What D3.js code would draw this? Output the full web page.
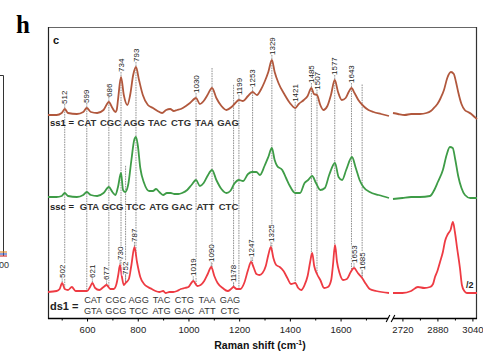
<!DOCTYPE html>
<html><head><meta charset="utf-8">
<script src="https://cdn.jsdelivr.net/npm/d3@7"></script>
<style>body{margin:0;background:#fff}svg{display:block}svg text{font-family:"Liberation Sans",Arial,sans-serif}</style>
</head><body><svg id="c" width="483" height="352"></svg>
<script>
// ---------- data (wavenumber cm-1, intensity a.u. with stacking offset) ----------
const ss1Low = [[446,203],[480,203],[500,205],[512,209],[525,205],[560,204],[585,206],[599,210],[615,206],[640,205],[665,208],[686,216],[700,210],[712,206],[717,208],[722,218],[734,241],[745,223],[759,213],[770,223],[782,243],[793,251],[805,238],[820,223],[840,213],[860,210],[878,207],[896,205],[912,208],[928,209],[942,207],[955,208],[970,209],[990,212],[1006,215],[1030,220],[1045,214],[1060,217],[1075,223],[1093,230],[1110,220],[1130,212],[1150,208],[1170,211],[1185,215],[1199,218],[1215,217],[1235,222],[1253,226],[1270,223],[1285,228],[1300,236],[1315,246],[1329,258],[1340,246],[1355,235],[1380,223],[1400,215],[1421,210],[1435,214],[1455,218],[1470,222],[1485,230],[1495,224],[1507,223],[1520,213],[1532,208],[1548,212],[1562,223],[1577,238],[1590,226],[1605,218],[1620,220],[1632,226],[1643,230],[1655,225],[1670,218],[1690,212],[1710,208],[1730,206],[1760,204],[1791,202]];
const ss1High = [[2677,205],[2700,204],[2730,203],[2760,204],[2800,204],[2830,205],[2850,207],[2868,211],[2880,214],[2895,220],[2910,228],[2925,240],[2942,246],[2955,244],[2965,236],[2975,226],[2990,214],[3005,208],[3020,206],[3035,204],[3050,201],[3061,199]];
const sscLow = [[446,121],[480,121],[500,122],[512,125],[525,122],[560,121],[585,123],[599,126],[615,123],[640,122],[665,125],[686,131],[700,126],[712,123],[722,131],[734,145],[742,128],[750,126],[762,133],[775,158],[786,178],[793,181],[800,173],[810,150],[825,135],[845,127],[860,127],[872,129],[885,126],[900,123],[915,125],[930,125],[945,124],[960,124],[975,125],[995,128],[1012,133],[1030,138],[1045,132],[1060,135],[1075,142],[1093,148],[1110,138],[1130,129],[1150,125],[1165,127],[1180,134],[1199,138],[1215,137],[1235,144],[1250,146],[1268,146],[1282,143],[1300,152],[1315,161],[1329,170],[1340,158],[1350,152],[1370,148],[1385,140],[1400,132],[1421,125],[1440,125],[1458,135],[1472,138],[1488,142],[1503,135],[1520,128],[1538,130],[1555,143],[1578,155],[1592,141],[1606,138],[1622,148],[1645,161],[1660,150],[1675,138],[1690,131],[1715,126],[1750,123],[1791,120]];
const sscHigh = [[2677,119],[2720,120],[2760,121],[2800,121],[2846,122],[2868,129],[2882,136],[2905,148],[2922,163],[2937,171],[2950,170],[2962,158],[2975,142],[2990,130],[3006,123],[3030,120],[3061,120]];
const ds1Low = [[446,26],[480,27],[492,29],[502,35],[512,29],[525,28],[540,31],[555,27],[580,27],[600,27],[612,31],[621,35],[632,30],[648,28],[665,31],[677,33],[692,29],[705,29],[716,34],[723,43],[730,53],[737,42],[745,33],[752,35],[765,39],[775,53],[787,71],[797,56],[810,41],[825,34],[840,31],[855,29],[870,27],[885,26],[900,27],[910,25],[925,26],[940,26],[955,27],[970,29],[985,30],[1000,31],[1019,37],[1035,32],[1048,33],[1062,37],[1076,44],[1090,51],[1102,42],[1115,35],[1135,30],[1155,27],[1168,29],[1178,31],[1190,29],[1205,29],[1220,35],[1235,48],[1247,56],[1258,50],[1268,44],[1280,43],[1292,45],[1305,52],[1315,63],[1325,71],[1335,60],[1346,53],[1360,51],[1375,47],[1390,40],[1405,34],[1421,35],[1433,30],[1445,28],[1458,33],[1470,42],[1480,56],[1488,65],[1496,52],[1507,44],[1520,38],[1535,30],[1550,31],[1563,38],[1570,53],[1578,73],[1586,56],[1596,45],[1610,38],[1625,39],[1640,46],[1653,50],[1668,45],[1685,40],[1700,34],[1715,29],[1740,27],[1791,25]];
const ds1High = [[2677,25],[2720,25],[2760,27],[2791,31],[2820,30],[2846,31],[2860,34],[2869,41],[2880,47],[2892,56],[2905,66],[2915,77],[2928,84],[2940,88],[2951,96],[2960,86],[2970,70],[2983,50],[2992,33],[3003,27],[3015,25],[3061,25]];

const ss1Peaks = [512,599,686,734,793,1030,1199,1253,1329,1421,1485,1507,1577,1643];
const ss1Markers = [1093,1178,1685];
const ds1Peaks = [502,621,677,730,752,787,1019,1090,1178,1247,1325,1653,1685];
const sscMarkers = [752];

const ss1Codons = ["CAT","CGC","AGG","TAC","CTG","TAA","GAG"];
const sscCodons = ["GTA","GCG","TCC","ATG","GAC","ATT","CTC"];

const majorLow = [600,800,1000,1200,1400,1600];
const minorLow = [500,700,900,1100,1300,1500,1700];
const majorHigh = [2720,2880,3040];
const minorHigh = [2800,2960];

// ---------- drawing ----------
const svg = d3.select("#c");
const xL = d3.scaleLinear().domain([446,1791]).range([48,389]);
const xH = d3.scaleLinear().domain([2677,3061]).range([393,477]);
const y = d3.scaleLinear().domain([0,291]).range([318,27]);

const colors = {ss1:"#b1583d", ssc:"#3e9c47", ds1:"#ee3b43"};

function valAt(data, w){
  if (w <= data[0][0]) return data[0][1];
  for (let i=1;i<data.length;i++){
    if (w <= data[i][0]){
      const a=data[i-1], b=data[i];
      return a[1] + (b[1]-a[1])*(w-a[0])/(b[0]-a[0]);
    }
  }
  return data[data.length-1][1];
}
function topY(data, w, win){
  let m=-Infinity;
  for (let t=w-win;t<=w+win;t+=1) m=Math.max(m,valAt(data,t));
  return y(m);
}

// left partial panel
svg.append("path").attr("d","M0,75.5H3.5V256").attr("fill","none").attr("stroke","#333").attr("stroke-width",1);
[["#e08a2c",252],["#3a5fc8",254],["#d23b3b",256]].forEach(([c,yy])=>{
  svg.append("line").attr("x1",0).attr("x2",7).attr("y1",yy).attr("y2",yy).attr("stroke",c).attr("stroke-width",1.2);
});
svg.append("text").attr("x",9).attr("y",268).attr("text-anchor","end").attr("font-size",9).attr("fill","#333").text("00");

// panel letters
svg.append("text").attr("x",16).attr("y",33)
  .style("font-family","'Liberation Serif','Times New Roman',serif")
  .attr("font-weight","bold").attr("font-size",25).attr("fill","#000").text("h");

// frame
svg.append("line").attr("x1",48).attr("x2",477).attr("y1",27.5).attr("y2",27.5).attr("stroke","#666").attr("stroke-width",1);
svg.append("line").attr("x1",48.5).attr("x2",48.5).attr("y1",27).attr("y2",319).attr("stroke","#222").attr("stroke-width",1.2);
svg.append("line").attr("x1",476.5).attr("x2",476.5).attr("y1",27).attr("y2",319).attr("stroke","#333").attr("stroke-width",1.2);

svg.append("text").attr("x",53).attr("y",44).attr("font-weight","bold").attr("font-size",11).attr("fill","#111").text("c");

// vertical marker lines
const vg = svg.append("g").attr("stroke","#858585").attr("stroke-width",0.9).attr("stroke-dasharray","1.6,0.9");
const labGap = 5;
const ss1Win = 4, ds1Win = 10;
ss1Peaks.forEach(w=>{
  vg.append("line").attr("x1",xL(w)).attr("x2",xL(w))
    .attr("y1",topY(ss1Low,w,ss1Win)-labGap).attr("y2",y(valAt(ds1Low,w)));
});
ss1Markers.forEach(w=>{
  vg.append("line").attr("x1",xL(w)).attr("x2",xL(w))
    .attr("y1",y(valAt(ss1Low,w))-20).attr("y2",y(valAt(ds1Low,w)));
});
sscMarkers.forEach(w=>{
  vg.append("line").attr("x1",xL(w)).attr("x2",xL(w))
    .attr("y1",y(valAt(sscLow,w))-25).attr("y2",y(valAt(ds1Low,w)));
});
ds1Peaks.forEach(w=>{
  vg.append("line").attr("x1",xL(w)).attr("x2",xL(w))
    .attr("y1",topY(ds1Low,w,ds1Win)-labGap).attr("y2",y(valAt(ds1Low,w)));
});

// spectra
const lineL = d3.line().x(d=>xL(d[0])).y(d=>y(d[1])).curve(d3.curveMonotoneX);
const lineH = d3.line().x(d=>xH(d[0])).y(d=>y(d[1])).curve(d3.curveMonotoneX);
[[ss1Low,ss1High,colors.ss1],[sscLow,sscHigh,colors.ssc],[ds1Low,ds1High,colors.ds1]].forEach(([lo,hi,c])=>{
  svg.append("path").attr("d",lineL(lo)).attr("fill","none").attr("stroke",c).attr("stroke-width",1.8).attr("stroke-linejoin","round");
  svg.append("path").attr("d",lineH(hi)).attr("fill","none").attr("stroke",c).attr("stroke-width",1.8).attr("stroke-linejoin","round");
});

// peak labels
function peakLabels(peaks, data, win, halo){
  svg.append("g").selectAll("text").data(peaks).join("text")
    .attr("transform",w=>`translate(${xL(w)+2.7},${topY(data,w,win)-labGap}) rotate(-90)`)
    .attr("font-size",8).attr("fill","#222")
    .attr("stroke",halo?"#fff":null).attr("stroke-width",halo?2:null).attr("paint-order","stroke")
    .text(w=>w);
}
peakLabels(ss1Peaks, ss1Low, ss1Win, false);
peakLabels(ds1Peaks, ds1Low, ds1Win, true);

// sequence annotations
function codonRow(list, range, base, weight, size){
  const s = d3.scalePoint().domain(list).range(range);
  svg.append("g").selectAll("text").data(list).join("text")
    .attr("x",d=>s(d)).attr("y",base).attr("text-anchor","middle")
    .attr("font-size",size).attr("font-weight",weight).attr("fill","#333").text(d=>d);
}
svg.append("text").attr("x",50).attr("y",126).attr("font-size",9.5).attr("font-weight","bold").attr("fill","#222").text("ss1 =");
codonRow(ss1Codons,[87,228],126,"bold",9.5);
svg.append("text").attr("x",50).attr("y",210).attr("font-size",9.5).attr("font-weight","bold").attr("fill","#222").text("ssc =");
codonRow(sscCodons,[89.5,228.5],210,"bold",9.5);
svg.append("text").attr("x",50).attr("y",310).attr("font-size",11).attr("font-weight","bold").attr("fill","#222").text("ds1 =");
codonRow(ss1Codons,[93,230],303,"normal",9.2);
codonRow(sscCodons,[93,230],314,"normal",9.2);

svg.append("text").attr("x",466).attr("y",288).attr("font-size",9).attr("font-weight","bold").attr("fill","#222").text("/2");

// x axis (broken)
function drawAxis(scale, major, minor){
  const gMaj = svg.append("g").attr("transform","translate(0,318.5)")
    .call(d3.axisBottom(scale).tickValues(major).tickSize(3).tickPadding(4.5).tickFormat(d3.format("d")));
  gMaj.select(".domain").remove();
  gMaj.selectAll("text").attr("font-size",9.5).attr("fill","#222");
  gMaj.selectAll("line").attr("stroke","#000");
  const gMin = svg.append("g").attr("transform","translate(0,318.5)")
    .call(d3.axisBottom(scale).tickValues(minor).tickSize(2).tickFormat(""));
  gMin.select(".domain").remove();
  gMin.selectAll("line").attr("stroke","#000");
}
drawAxis(xL, majorLow, minorLow);
drawAxis(xH, majorHigh, minorHigh);
svg.append("line").attr("x1",48).attr("x2",388).attr("y1",318.5).attr("y2",318.5).attr("stroke","#000").attr("stroke-width",1.6);
svg.append("line").attr("x1",393).attr("x2",477).attr("y1",318.5).attr("y2",318.5).attr("stroke","#000").attr("stroke-width",1.6);
[388,393].forEach(bx=>{
  svg.append("line").attr("x1",bx-1.8).attr("x2",bx+1.8).attr("y1",322).attr("y2",315).attr("stroke","#000").attr("stroke-width",1.1);
});

const title = svg.append("text").attr("x",260).attr("y",349).attr("text-anchor","middle")
  .attr("font-size",10.5).attr("font-weight","bold").attr("fill","#111");
title.append("tspan").text("Raman shift (cm");
title.append("tspan").attr("dy",-4).attr("font-size",7).text("-1");
title.append("tspan").attr("dy",4).text(")");
</script></body></html>
